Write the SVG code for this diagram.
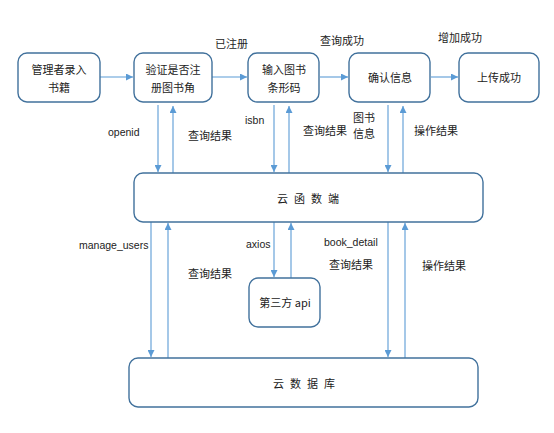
<svg xmlns="http://www.w3.org/2000/svg" width="554" height="433" viewBox="0 0 554 433">
<style>
.box{fill:#fff;stroke:#41719C;stroke-width:1.4}
.t{font-family:"Noto Sans CJK SC","Liberation Sans",sans-serif;font-size:11px;fill:#222;text-anchor:middle;dominant-baseline:central}
.l{font-family:"Noto Sans CJK SC","Liberation Sans",sans-serif;font-size:11px;fill:#222;dominant-baseline:central}
.e{font-family:"Liberation Sans",Arial,sans-serif;font-size:10.5px;fill:#222;dominant-baseline:central}
.c{stroke:#5B9BD5;stroke-width:1.1;fill:none;marker-end:url(#ah)}
</style>
<defs>
<marker id="ah" viewBox="0 0 10 10" refX="10" refY="5" markerWidth="7" markerHeight="7" markerUnits="userSpaceOnUse" orient="auto">
<path d="M0,0 L10,5 L0,10 Z" fill="#5B9BD5"/>
</marker>
</defs>
<rect width="554" height="433" fill="#fff"/>
<g id="connectors">
<line class="c" x1="100" y1="77" x2="133" y2="77"/>
<line class="c" x1="212" y1="77" x2="247" y2="77"/>
<line class="c" x1="320" y1="77" x2="348" y2="77"/>
<line class="c" x1="431" y1="77" x2="458" y2="77"/>
<line class="c" x1="158" y1="105" x2="158" y2="172"/>
<line class="c" x1="173" y1="173" x2="173" y2="106"/>
<line class="c" x1="274" y1="105" x2="274" y2="172"/>
<line class="c" x1="289" y1="173" x2="289" y2="106"/>
<line class="c" x1="388" y1="105" x2="388" y2="172"/>
<line class="c" x1="403" y1="173" x2="403" y2="106"/>
<line class="c" x1="151" y1="222" x2="151" y2="357"/>
<line class="c" x1="168" y1="358" x2="168" y2="223"/>
<line class="c" x1="274" y1="222" x2="274" y2="277"/>
<line class="c" x1="291" y1="278" x2="291" y2="223"/>
<line class="c" x1="388" y1="222" x2="388" y2="357"/>
<line class="c" x1="405" y1="358" x2="405" y2="223"/>
<text class="l" x="215" y="43">已注册</text>
<text class="l" x="320" y="40">查询成功</text>
<text class="l" x="438" y="37">增加成功</text>
<text class="e" x="108" y="132">openid</text>
<text class="l" x="188" y="135">查询结果</text>
<text class="e" x="245" y="120">isbn</text>
<text class="l" x="303" y="130">查询结果</text>
<text class="l" x="353" y="117">图书</text>
<text class="l" x="353" y="133">信息</text>
<text class="l" x="414" y="130">操作结果</text>
<text class="e" x="79" y="245">manage_users</text>
<text class="e" x="246" y="244">axios</text>
<text class="e" x="324" y="242">book_detail</text>
<text class="l" x="188" y="273">查询结果</text>
<text class="l" x="329" y="264">查询结果</text>
<text class="l" x="422" y="265">操作结果</text>
</g>
<g id="n1"><rect class="box" x="18" y="53" width="82" height="49" rx="9"/><text class="t" x="59" y="69">管理者录入</text><text class="t" x="59" y="87">书籍</text></g>
<g id="n2"><rect class="box" x="134" y="53" width="78" height="49" rx="9"/><text class="t" x="173" y="69">验证是否注</text><text class="t" x="173" y="87">册图书角</text></g>
<g id="n3"><rect class="box" x="248" y="53" width="71" height="49" rx="9"/><text class="t" x="284" y="69">输入图书</text><text class="t" x="284" y="87">条形码</text></g>
<g id="n4"><rect class="box" x="349" y="53" width="81" height="49" rx="9"/><text class="t" x="390" y="77">确认信息</text></g>
<g id="n5"><rect class="box" x="459" y="53" width="80" height="49" rx="9"/><text class="t" x="499" y="77">上传成功</text></g>
<g id="cloudfn"><rect class="box" x="134" y="173" width="349" height="49" rx="9"/><text class="t" x="311" y="198" letter-spacing="6">云函数端</text></g>
<g id="api"><rect class="box" x="249" y="278" width="71" height="49" rx="9"/><text class="t" x="285" y="302">第三方 api</text></g>
<g id="db"><rect class="box" x="129" y="358" width="349" height="49" rx="9"/><text class="t" x="307" y="383" letter-spacing="6">云数据库</text></g>
</svg>
